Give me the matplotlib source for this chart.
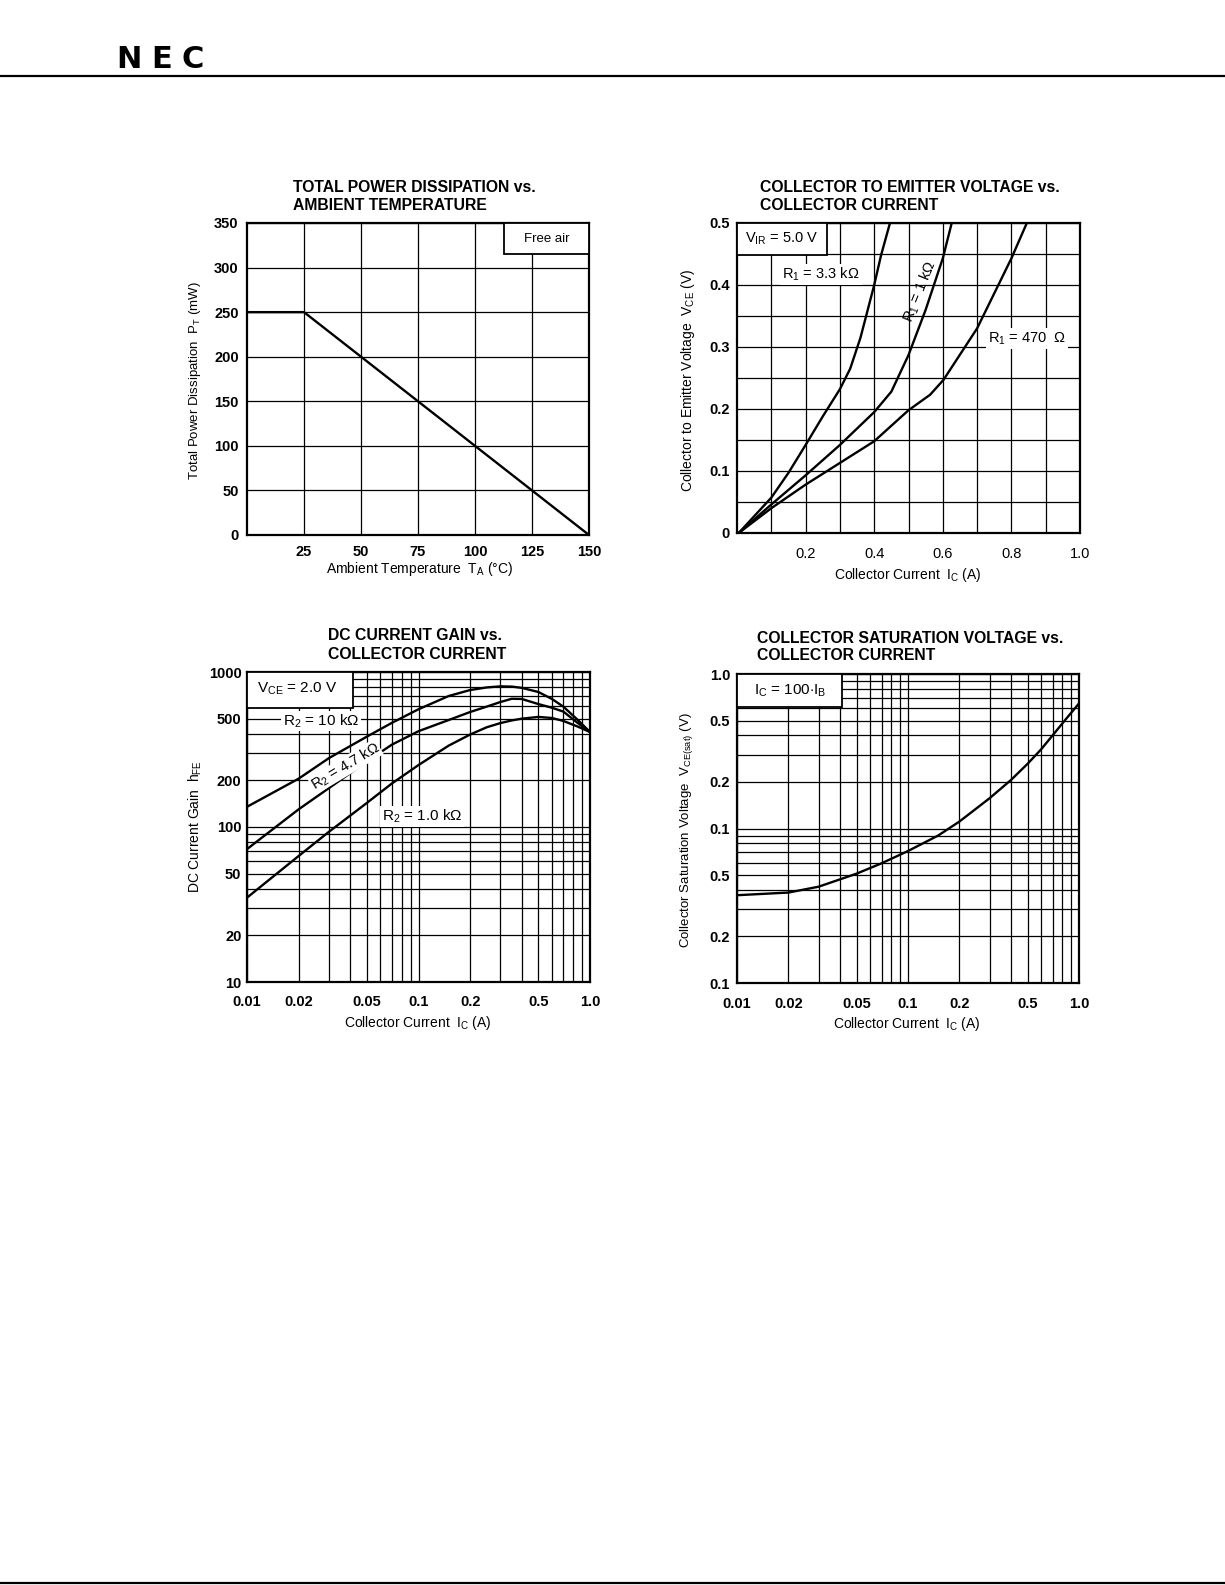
import matplotlib
matplotlib.use('Agg')
import matplotlib.pyplot as plt
from matplotlib.patches import Rectangle
from matplotlib.ticker import LogLocator, NullFormatter, FixedLocator
from matplotlib.lines import Line2D

plt.rcParams['font.family'] = ['Liberation Sans', 'DejaVu Sans']
plt.rcParams['mathtext.fontset'] = 'custom'
plt.rcParams['mathtext.rm'] = 'Liberation Sans'
plt.rcParams['mathtext.it'] = 'Liberation Sans:italic'
plt.rcParams['mathtext.bf'] = 'Liberation Sans:bold'

# ---------------- data ----------------
# Chart 1: total power dissipation vs ambient temperature
pd_temp = [0, 25, 150]
pd_power = [250, 250, 0]
pd_xticks = [25, 50, 75, 100, 125, 150]
pd_yticks = [0, 50, 100, 150, 200, 250, 300, 350]

# Chart 2: VCE vs IC
r33_ic = [0.005, 0.05, 0.1, 0.15, 0.2, 0.25, 0.3, 0.33, 0.36, 0.4, 0.42, 0.446]
r33_vce = [0.0, 0.027, 0.057, 0.097, 0.142, 0.188, 0.232, 0.265, 0.315, 0.40, 0.448, 0.50]
r1k_ic = [0.005, 0.1, 0.2, 0.3, 0.4, 0.45, 0.5, 0.55, 0.6, 0.626]
r1k_vce = [0.0, 0.046, 0.093, 0.142, 0.195, 0.228, 0.287, 0.36, 0.443, 0.50]
r470_ic = [0.005, 0.1, 0.2, 0.3, 0.4, 0.5, 0.563, 0.602, 0.7, 0.8, 0.845]
r470_vce = [0.0, 0.04, 0.078, 0.113, 0.148, 0.198, 0.223, 0.247, 0.33, 0.443, 0.5]
vce_xticks = [0.2, 0.4, 0.6, 0.8, 1.0]
vce_xlabels = ['0.2', '0.4', '0.6', '0.8', '1.0']
vce_yticks = [0, 0.1, 0.2, 0.3, 0.4, 0.5]
vce_ylabels = ['0', '0.1', '0.2', '0.3', '0.4', '0.5']

# Chart 3: hFE vs IC
hfe_ic = [0.01, 0.02, 0.03, 0.05, 0.07, 0.1, 0.15, 0.2, 0.25, 0.3, 0.35, 0.4, 0.5, 0.6, 0.7, 0.85, 1.0]
hfe_r10k = [135, 205, 278, 383, 470, 575, 700, 765, 795, 808, 805, 790, 743, 670, 597, 490, 410]
hfe_r47k = [72, 130, 178, 265, 340, 415, 490, 552, 598, 640, 672, 670, 621, 588, 555, 468, 410]
hfe_r1k = [35, 65, 93, 143, 191, 251, 335, 395, 440, 468, 487, 500, 513, 505, 483, 444, 410]
log_xticks = [0.01, 0.02, 0.05, 0.1, 0.2, 0.5, 1.0]
log_xlabels = ['0.01', '0.02', '0.05', '0.1', '0.2', '0.5', '1.0']
hfe_yticks = [10, 20, 50, 100, 200, 500, 1000]
hfe_ylabels = ['10', '20', '50', '100', '200', '500', '1000']

# Chart 4: VCE(sat) vs IC
sat_ic = [0.01, 0.02, 0.03, 0.05, 0.07, 0.1, 0.15, 0.2, 0.3, 0.4, 0.5, 0.6, 0.7, 0.85, 1.0]
sat_vce = [0.037, 0.0385, 0.042, 0.051, 0.0595, 0.0715, 0.09, 0.111, 0.157, 0.206, 0.262,
           0.325, 0.40, 0.52, 0.645]
sat_yticks = [0.01, 0.02, 0.05, 0.1, 0.2, 0.5, 1.0]
sat_ylabels = ['0.1', '0.2', '0.5', '0.1', '0.2', '0.5', '1.0']

# ---------------- figure ----------------
W, H = 1225, 1585
fig = plt.figure(figsize=(W / 100, H / 100), dpi=100)


def ax_px(x0, y0, x1, y1):
    return fig.add_axes([x0 / W, 1 - y1 / H, (x1 - x0) / W, (y1 - y0) / H])


def ftext(x, y, s, **kw):
    return fig.text(x / W, 1 - y / H, s, **kw)


def style(ax):
    for sp in ax.spines.values():
        sp.set_linewidth(1.6)
        sp.set_color('black')
    ax.set_axisbelow(True)


def bold_ticks(labels):
    for t in labels:
        t.set_fontweight('bold')


LW = 1.7
GRID = dict(color='black', lw=0.9)
TFS = 11.3   # title font size
XLFS = 10.0  # x label font size
YLFS = 9.5   # y label font size

# header
for letter, xc in zip(['N', 'E', 'C'], [129, 162, 193]):
    ftext(xc, 60, letter, fontsize=22, fontweight='bold', ha='center', va='center',
          family=['DejaVu Sans'])
fig.add_artist(Line2D([0, 1], [1 - 76 / H, 1 - 76 / H], color='black', lw=1.6))
fig.add_artist(Line2D([0, 1], [1 - 1583 / H, 1 - 1583 / H], color='black', lw=1.6))

# ---------- chart 1 ----------
ax1 = ax_px(247, 223, 589, 535)
style(ax1)
ax1.plot(pd_temp, pd_power, color='black', lw=LW, zorder=4)
ax1.set_xlim(0, 150)
ax1.set_ylim(0, 350)
ax1.set_xticks(pd_xticks)
ax1.set_yticks(pd_yticks)
ax1.grid(True, **GRID)
ax1.tick_params(length=0, labelsize=10.5)
ax1.tick_params(axis='x', pad=7)
ax1.tick_params(axis='y', pad=6)
bold_ticks(ax1.get_xticklabels() + ax1.get_yticklabels())
ax1.add_patch(Rectangle((112.5, 315), 37.5, 35, facecolor='white', edgecolor='black',
                        lw=1.3, zorder=5))
ax1.text(131.25, 332.5, 'Free air', ha='center', va='center', fontsize=9.5, zorder=6)
ftext(293, 187, 'TOTAL POWER DISSIPATION vs.', fontsize=TFS, fontweight='bold', va='center')
ftext(293, 205, 'AMBIENT TEMPERATURE', fontsize=TFS, fontweight='bold', va='center')
ftext(420, 569, 'Ambient Temperature  T$_{\\rm A}$ (°C)', fontsize=XLFS, ha='center', va='center')
ftext(195, 381, 'Total Power Dissipation  P$_{\\rm T}$ (mW)', fontsize=YLFS, ha='center',
      va='center', rotation=90)

# ---------- chart 2 ----------
ax2 = ax_px(737, 223, 1080, 533)
style(ax2)
ax2.plot(r33_ic, r33_vce, color='black', lw=LW, zorder=4)
ax2.plot(r1k_ic, r1k_vce, color='black', lw=LW, zorder=4)
ax2.plot(r470_ic, r470_vce, color='black', lw=LW, zorder=4)
ax2.set_xlim(0, 1.0)
ax2.set_ylim(0, 0.5)
ax2.set_xticks(vce_xticks)
ax2.set_xticklabels(vce_xlabels)
ax2.set_yticks(vce_yticks)
ax2.set_yticklabels(vce_ylabels)
ax2.xaxis.set_minor_locator(FixedLocator([0.1, 0.3, 0.5, 0.7, 0.9]))
ax2.yaxis.set_minor_locator(FixedLocator([0.05, 0.15, 0.25, 0.35, 0.45]))
ax2.grid(True, which='both', **GRID)
ax2.tick_params(which='both', length=0, labelsize=10.5)
ax2.tick_params(axis='x', pad=10)
ax2.tick_params(axis='y', pad=5)
bold_ticks(ax2.get_yticklabels())
ax2.add_patch(Rectangle((0, 0.449), 0.262, 0.051, facecolor='white', edgecolor='black',
                        lw=1.3, zorder=5))
ax2.text(0.131, 0.4745, 'V$_{\\rm IR}$ = 5.0 V', ha='center', va='center', fontsize=10.5, zorder=6)
ax2.text(0.245, 0.417, 'R$_{\\rm 1}$ = 3.3 kΩ', ha='center', va='center', fontsize=10.5, zorder=6,
         bbox=dict(facecolor='white', edgecolor='none', pad=1.5))
ax2.text(0.535, 0.39, 'R$_{\\rm 1}$ = 1 kΩ', ha='center', va='center', fontsize=10.5, zorder=6,
         rotation=68)
ax2.text(0.845, 0.314, 'R$_{\\rm 1}$ = 470  Ω', ha='center', va='center', fontsize=10.5, zorder=6,
         bbox=dict(facecolor='white', edgecolor='none', pad=1.5))
ftext(760, 188, 'COLLECTOR TO EMITTER VOLTAGE vs.', fontsize=TFS, fontweight='bold', va='center')
ftext(760, 206, 'COLLECTOR CURRENT', fontsize=TFS, fontweight='bold', va='center')
ftext(908, 575, 'Collector Current  I$_{\\rm C}$ (A)', fontsize=XLFS, ha='center', va='center')
ftext(688, 380, 'Collector to Emitter Voltage  V$_{\\rm CE}$ (V)', fontsize=YLFS + 0.5, ha='center',
      va='center', rotation=90)

# ---------- chart 3 ----------
ax3 = ax_px(247, 672, 590, 982)
style(ax3)
ax3.plot(hfe_ic, hfe_r10k, color='black', lw=LW, zorder=4)
ax3.plot(hfe_ic, hfe_r47k, color='black', lw=LW, zorder=4)
ax3.plot(hfe_ic, hfe_r1k, color='black', lw=LW, zorder=4)
ax3.set_xscale('log')
ax3.set_yscale('log')
ax3.set_xlim(0.01, 1.0)
ax3.set_ylim(10, 1000)
ax3.set_xticks(log_xticks)
ax3.set_xticklabels(log_xlabels)
ax3.set_yticks(hfe_yticks)
ax3.set_yticklabels(hfe_ylabels)
ax3.xaxis.set_minor_locator(LogLocator(base=10, subs=range(2, 10)))
ax3.yaxis.set_minor_locator(LogLocator(base=10, subs=range(2, 10)))
ax3.xaxis.set_minor_formatter(NullFormatter())
ax3.yaxis.set_minor_formatter(NullFormatter())
ax3.grid(True, which='both', **GRID)
ax3.tick_params(which='both', length=0, labelsize=10.5)
ax3.tick_params(axis='x', pad=9)
ax3.tick_params(axis='y', pad=4)
bold_ticks(ax3.get_xticklabels() + ax3.get_yticklabels())
ax3.add_patch(Rectangle((0.01, 10 ** 2.77), 10 ** (-2 + 106 / 171.5) - 0.01,
                        1000 - 10 ** 2.77, facecolor='white', edgecolor='black', lw=1.3, zorder=5))
ax3.text(0.0195, 10 ** 2.89, 'V$_{\\rm CE}$ = 2.0 V', ha='center', va='center', fontsize=11, zorder=6)
ax3.text(0.027, 483, 'R$_{\\rm 2}$ = 10 kΩ', ha='center', va='center', fontsize=11, zorder=6,
         bbox=dict(facecolor='white', edgecolor='none', pad=1.0))
ax3.text(0.0375, 246, 'R$_{\\rm 2}$ = 4.7 kΩ', ha='center', va='center', fontsize=10.5, zorder=6,
         rotation=31, bbox=dict(facecolor='white', edgecolor='none', pad=0.3))
ax3.text(0.105, 117, 'R$_{\\rm 2}$ = 1.0 kΩ', ha='center', va='center', fontsize=11, zorder=6,
         bbox=dict(facecolor='white', edgecolor='none', pad=1.0))
ftext(328, 636, 'DC CURRENT GAIN vs.', fontsize=TFS, fontweight='bold', va='center')
ftext(328, 654, 'COLLECTOR CURRENT', fontsize=TFS, fontweight='bold', va='center')
ftext(418, 1023, 'Collector Current  I$_{\\rm C}$ (A)', fontsize=XLFS, ha='center', va='center')
ftext(195, 827, 'DC Current Gain  h$_{\\rm FE}$', fontsize=YLFS + 0.5, ha='center', va='center',
      rotation=90)

# ---------- chart 4 ----------
ax4 = ax_px(737, 674, 1079, 983)
style(ax4)
ax4.plot(sat_ic, sat_vce, color='black', lw=LW, zorder=4)
ax4.set_xscale('log')
ax4.set_yscale('log')
ax4.set_xlim(0.01, 1.0)
ax4.set_ylim(0.01, 1.0)
ax4.set_xticks(log_xticks)
ax4.set_xticklabels(log_xlabels)
ax4.set_yticks(sat_yticks)
ax4.set_yticklabels(sat_ylabels)
ax4.xaxis.set_minor_locator(LogLocator(base=10, subs=range(2, 10)))
ax4.yaxis.set_minor_locator(LogLocator(base=10, subs=range(2, 10)))
ax4.xaxis.set_minor_formatter(NullFormatter())
ax4.yaxis.set_minor_formatter(NullFormatter())
ax4.grid(True, which='both', **GRID)
ax4.tick_params(which='both', length=0, labelsize=10.5)
ax4.tick_params(axis='x', pad=10)
ax4.tick_params(axis='y', pad=5)
bold_ticks(ax4.get_xticklabels() + ax4.get_yticklabels())
ax4.add_patch(Rectangle((0.01, 10 ** (-33 / 154.5)), 10 ** (-2 + 105 / 171) - 0.01,
                        1 - 10 ** (-33 / 154.5), facecolor='white', edgecolor='black', lw=1.3, zorder=5))
ax4.text(10 ** (-2 + 53 / 171), 10 ** (-17 / 154.5), 'I$_{\\rm C}$ = 100$\\cdot$I$_{\\rm B}$',
         ha='center', va='center', fontsize=11, zorder=6)
ftext(757, 638, 'COLLECTOR SATURATION VOLTAGE vs.', fontsize=TFS, fontweight='bold', va='center')
ftext(757, 656, 'COLLECTOR CURRENT', fontsize=TFS, fontweight='bold', va='center')
ftext(907, 1024, 'Collector Current  I$_{\\rm C}$ (A)', fontsize=XLFS, ha='center', va='center')
ftext(687, 830, 'Collector Saturation Voltage  V$_{\\rm CE(sat)}$ (V)', fontsize=YLFS, ha='center',
      va='center', rotation=90)

fig.savefig('out.png', dpi=100, facecolor='white')
